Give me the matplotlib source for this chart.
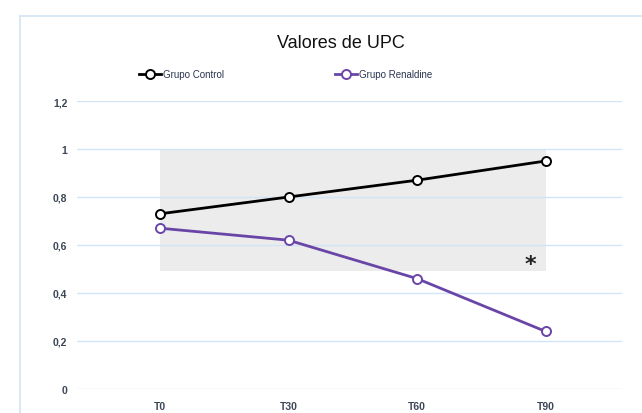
import matplotlib.pyplot as plt
from matplotlib.patches import Rectangle

categories = ['T0', 'T30', 'T60', 'T90']
control = [0.73, 0.80, 0.87, 0.95]
renaldine = [0.67, 0.62, 0.46, 0.24]
yticks = [0, 0.2, 0.4, 0.6, 0.8, 1.0, 1.2]
ytick_labels = ['0', '0,2', '0,4', '0,6', '0,8', '1', '1,2']
band = (0.49, 1.0)

narrow = ['Liberation Sans Narrow', 'Liberation Sans', 'DejaVu Sans']
grid_col = '#d2e4f5'
tick_col = '#3b4656'
purple = '#6a45a8'

fig = plt.figure(figsize=(6.42, 4.14), dpi=100)

# outer chart frame (only top and left edges visible)
fig.add_artist(plt.Line2D([20 / 642, 1], [1 - 17 / 414] * 2, transform=fig.transFigure, color=grid_col, lw=1.2))
fig.add_artist(plt.Line2D([20 / 642] * 2, [0, 1 - 17 / 414], transform=fig.transFigure, color=grid_col, lw=1.2))

ax = fig.add_axes([77 / 642, 24 / 414, 545 / 642, 288 / 414])
x = list(range(len(categories)))

ax.add_patch(Rectangle((x[0], band[0]), x[-1] - x[0], band[1] - band[0],
                       facecolor='#ececec', edgecolor='none', zorder=0))

ax.plot(x, control, color='black', lw=2, marker='o', ms=6.5, mfc='white', mec='black', mew=1.4,
        label='Grupo Control', zorder=3)
ax.plot(x, renaldine, color=purple, lw=2, marker='o', ms=6.5, mfc='white', mec=purple, mew=1.4,
        label='Grupo Renaldine', zorder=3)

ax.text(2.88, 0.52, '*', fontsize=16, fontweight='bold', ha='center', va='center', color='#222222')

ax.set_xlim(-0.646, 3.595)
ax.set_ylim(0, 1.2)
ax.set_yticks(yticks)
ax.set_yticklabels(ytick_labels)
ax.set_xticks(x)
ax.set_xticklabels(categories)
for lab in ax.get_xticklabels() + ax.get_yticklabels():
    lab.set_family(narrow)
    lab.set_fontsize(7.5)
    lab.set_color(tick_col)
    lab.set_fontweight('bold')
ax.tick_params(length=0, pad=7)
ax.tick_params(axis='x', pad=9)
ax.grid(axis='y', color=grid_col, lw=1)
ax.set_axisbelow(True)
for s in ax.spines.values():
    s.set_visible(False)

fig.text(0.531, 1 - 43 / 414, 'Valores de UPC', ha='center', va='center', fontsize=13,
         family=['Liberation Sans', 'DejaVu Sans'], color='#111111')

leg = fig.legend(loc='center', bbox_to_anchor=(0.445, 1 - 75 / 414), ncol=2, frameon=False,
                 handlelength=2.2, columnspacing=11.5, handletextpad=0.2,
                 prop={'family': narrow, 'size': 7})
for t in leg.get_texts():
    t.set_color('#2a3550')

fig.savefig('out.png', dpi=100)
